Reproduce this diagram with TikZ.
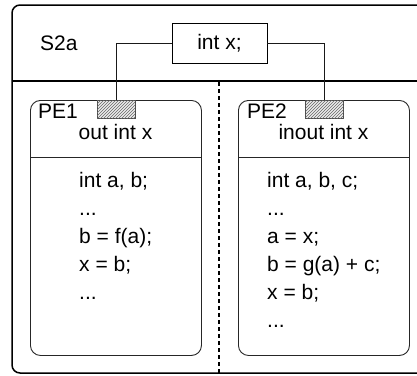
\documentclass[tikz,border=0pt]{standalone}
\usepackage{fontspec}
\setmainfont{Liberation Sans}
\usetikzlibrary{patterns}

\begin{document}
\begin{tikzpicture}[x=1pt, y=-1pt,
  txt/.style={inner sep=0pt, font=\fontsize{21}{25}\selectfont},
  frame/.style={line width=1.5pt, draw=black},
  pebox/.style={draw=black!85, line width=0.9pt, rounded corners=10pt,
                minimum width=171pt, minimum height=255pt, anchor=north west, inner sep=0pt},
  port/.style={draw=black!70, line width=0.7pt, fill=gray!15,
               postaction={pattern=north east lines, pattern color=black!60},
               minimum width=38pt, minimum height=18pt, anchor=north, inner sep=0pt},
  varbox/.style={draw, line width=0.9pt, minimum width=95pt, minimum height=40pt, inner sep=0pt,
                 font=\fontsize{21}{25}\selectfont},
  wire/.style={line width=0.8pt, draw=black!90}]
\useasboundingbox (0,0) rectangle (417,375);
\clip (0,0) rectangle (417,375);

% outer section frame (open to the right)
\draw[frame, rounded corners=8pt] (440,5) -- (12,5) -- (12,373) -- (440,373);
\draw[frame] (12,81) -- (417,81);
% separator between the two processing elements
\draw[line width=1.5pt, dash pattern=on 4pt off 3pt] (219,82) -- (219,375);

\node[txt, anchor=base west] (title) at (40,50) {S2a};

% shared variable
\node[varbox] (intx) at (219.5,43) {int x;};

% processing elements
\node[pebox] (pe1) at (30,100) {};
\node[pebox] (pe2) at (238,100) {};
\draw[draw=black!85, line width=0.9pt] (30,157) -- (201,157);
\draw[draw=black!85, line width=0.9pt] (238,157) -- (409,157);

\node[port] (port1) at (116,100) {};
\node[port] (port2) at (324.5,100) {};

\draw[wire] (intx.west) -| (port1.north);
\draw[wire] (intx.east) -| (port2.north);

\node[txt, anchor=base west] (pe1name) at (38,118) {PE1};
\node[txt, anchor=base] (pe1if) at (115.5,139) {out int x};
\node[txt, anchor=base west] (pe2name) at (247,118) {PE2};
\node[txt, anchor=base] (pe2if) at (323.5,139) {inout int x};

% PE1 body
\node[txt, anchor=base west] (a1) at (79,187) {int a, b;};
\node[txt, anchor=base west] (a2) at (79,215) {...};
\node[txt, anchor=base west] (a3) at (79,243) {b = f(a);};
\node[txt, anchor=base west] (a4) at (79,271) {x = b;};
\node[txt, anchor=base west] (a5) at (79,299) {...};

% PE2 body
\node[txt, anchor=base west] (b1) at (267,187) {int a, b, c;};
\node[txt, anchor=base west] (b2) at (267,215) {...};
\node[txt, anchor=base west] (b3) at (267,243) {a = x;};
\node[txt, anchor=base west] (b4) at (267,271) {b = g(a) + c;};
\node[txt, anchor=base west] (b5) at (267,299) {x = b;};
\node[txt, anchor=base west] (b6) at (267,327) {...};
\end{tikzpicture}
\end{document}
